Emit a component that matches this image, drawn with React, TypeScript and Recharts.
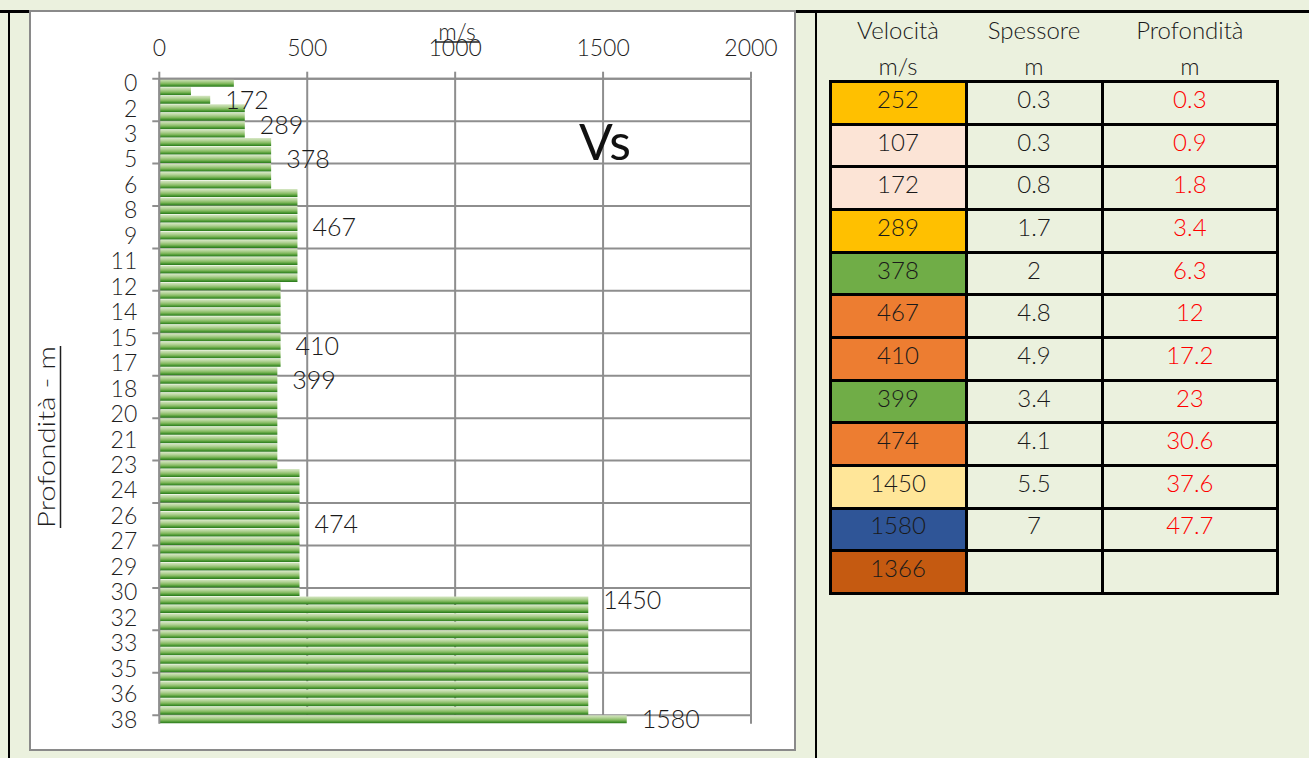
import React from 'react';
import { BarChart, Bar, XAxis, YAxis, CartesianGrid, LabelList } from 'recharts';

// ---- chart data ----
const depthCategories = [
  0, 0.5, 1, 1.5, 2, 2.5, 3, 3.5, 4, 4.5, 5, 5.5, 6, 6.5, 7, 7.5, 8, 8.5, 9, 9.5,
  10, 10.5, 11, 11.5, 12, 12.5, 13, 13.5, 14, 14.5, 15, 15.5, 16, 16.5, 17, 17.5,
  18, 18.5, 19, 19.5, 20, 20.5, 21, 21.5, 22, 22.5, 23, 23.5, 24, 24.5, 25, 25.5,
  26, 26.5, 27, 27.5, 28, 28.5, 29, 29.5, 30, 30.5, 31, 31.5, 32, 32.5, 33, 33.5,
  34, 34.5, 35, 35.5, 36, 36.5, 37, 37.5,
];
const layerVelocities = [252, 107, 172, 289, 378, 467, 410, 399, 474, 1450, 1580];
const layerRowCounts = [1, 1, 1, 4, 6, 11, 10, 12, 15, 14, 1];
const labelledRows = [2, 5, 9, 17, 31, 35, 52, 61, 75];
const xTicks = [0, 500, 1000, 1500, 2000];

// ---- table data ----
const headerTop = ['Velocità', 'Spessore', 'Profondità'];
const headerUnits = ['m/s', 'm', 'm'];
const tableVelocity = ['252', '107', '172', '289', '378', '467', '410', '399', '474', '1450', '1580', '1366'];
const tableThickness = ['0.3', '0.3', '0.8', '1.7', '2', '4.8', '4.9', '3.4', '4.1', '5.5', '7', ''];
const tableDepth = ['0.3', '0.9', '1.8', '3.4', '6.3', '12', '17.2', '23', '30.6', '37.6', '47.7', ''];
const velocityColors = [
  '#FFC000', '#FCE4D6', '#FCE4D6', '#FFC000', '#70AD47', '#ED7D31',
  '#ED7D31', '#70AD47', '#ED7D31', '#FFE699', '#2F5597', '#C55A11',
];

const rows: { depth: number; v: number; lbl: number | null }[] = [];
{
  let idx = 0;
  layerVelocities.forEach((v, li) => {
    for (let c = 0; c < layerRowCounts[li]; c++) {
      rows.push({ depth: depthCategories[idx], v, lbl: labelledRows.includes(idx) ? v : null });
      idx++;
    }
  });
}

const FONT = "Lato, 'Liberation Sans', sans-serif";
const FW = 300;
const GRID = '#8e8e8e';
const BG = '#EBF1DE';

const renderLabel = (p: any) => {
  const { x, y, width, height, value } = p;
  if (value === null || value === undefined || value === '') return null;
  return (
    <text
      x={Number(x) + Number(width) + 15}
      y={Number(y) + Number(height) / 2}
      dy="0.36em"
      fontSize={25}
      fontFamily={FONT}
      fontWeight={FW}
      fill="#1a1a1a"
    >
      {value}
    </text>
  );
};

export default function App() {
  const bandsPerGrid = 5;
  const hGen = ({ offset }: any) => {
    const out: number[] = [];
    const step = offset.height / rows.length;
    for (let k = 0; k * bandsPerGrid < rows.length; k++) out.push(offset.top + k * bandsPerGrid * step);
    return out;
  };
  const horizontalLine = (p: any) => (
    <line key={`h-${p.index}-${p.y1}`} x1={p.x1 - 7} y1={p.y1} x2={p.x2} y2={p.y2} stroke={GRID} strokeWidth={2} />
  );
  const verticalLine = (p: any) => {
    const isLast = p.index === xTicks.length - 1;
    const band = (p.y2 - p.y1) / rows.length;
    const yEnd = isLast ? p.y2 : p.y2 - band;
    return (
      <line key={`v-${p.index}-${p.x1}`} x1={p.x1} y1={p.y1} x2={p.x2} y2={yEnd} stroke={GRID} strokeWidth={2} />
    );
  };

  return (
    <div style={{ position: 'absolute', left: 0, top: 0, width: 1309, height: 758, background: BG, overflow: 'hidden', fontFamily: FONT, fontWeight: FW }}>
      {/* frame lines */}
      <div style={{ position: 'absolute', left: 0, top: 10, width: 1309, height: 2.5, background: '#000' }} />
      <div style={{ position: 'absolute', left: 7.5, top: 10, width: 2, height: 748, background: '#000' }} />
      <div style={{ position: 'absolute', left: 814.5, top: 10, width: 2.5, height: 748, background: '#000' }} />
      {/* chart panel */}
      <div style={{ position: 'absolute', left: 29, top: 10, width: 767, height: 741, background: '#fff', border: '2px solid #8a8a8a', boxSizing: 'border-box' }} />
      <div style={{ position: 'absolute', left: 0, top: 0 }}>
        <BarChart
          width={800}
          height={758}
          data={rows}
          layout="vertical"
          margin={{ top: 0, right: 49, bottom: 34.3, left: 0 }}
          barCategoryGap={0}
        >
          <defs>
            <linearGradient id="greenBar" x1="0" y1="0" x2="0" y2="1">
              <stop offset="0%" stopColor="#d6e7c4" />
              <stop offset="30%" stopColor="#b4d398" />
              <stop offset="60%" stopColor="#84ba60" />
              <stop offset="82%" stopColor="#4c9833" />
              <stop offset="100%" stopColor="#27771a" />
            </linearGradient>
          </defs>
          <CartesianGrid
            horizontalCoordinatesGenerator={hGen}
            horizontal={horizontalLine}
            vertical={verticalLine}
            stroke={GRID}
          />
          <XAxis
            type="number"
            orientation="top"
            domain={[0, 2000]}
            ticks={xTicks}
            height={78.7}
            tickSize={7}
            tickMargin={16}
            axisLine={{ stroke: GRID, strokeWidth: 2 }}
            tickLine={{ stroke: GRID, strokeWidth: 2 }}
            tick={{ fontSize: 23, fill: '#1f1f1f', fontFamily: FONT, fontWeight: FW }}
            interval={0}
          />
          <YAxis
            type="category"
            dataKey="depth"
            width={159.3}
            interval={2}
            tickSize={0}
            tickMargin={22}
            tickLine={false}
            axisLine={{ stroke: GRID, strokeWidth: 2 }}
            tick={{ fontSize: 23, fill: '#1f1f1f', fontFamily: FONT, fontWeight: FW }}
            tickFormatter={(v: number) => String(Math.round(v))}
          />
          <Bar dataKey="v" fill="url(#greenBar)" isAnimationActive={false}>
            <LabelList dataKey="lbl" content={renderLabel} />
          </Bar>
        </BarChart>
      </div>
      {/* chart titles */}
      <svg style={{ position: 'absolute', left: 0, top: 0, pointerEvents: 'none' }} width={800} height={758}>
        <text x={605} y={160} textAnchor="middle" fontSize={50} fontFamily={FONT} fontWeight={400} fill="#111">Vs</text>
        <text x={457} y={40} textAnchor="middle" fontSize={23} fontFamily={FONT} fontWeight={FW} fill="#1f1f1f">m/s</text>
        <line x1={435} y1={42} x2={479} y2={42} stroke="#1f1f1f" strokeWidth={1.5} />
        <text
          x={55}
          y={437}
          transform="rotate(-90, 55, 437)"
          textAnchor="middle"
          fontSize={24}
          fontFamily={FONT}
          fontWeight={FW}
          fill="#1f1f1f"
          textLength={182}
          lengthAdjust="spacingAndGlyphs"
        >
          Profondità - m
        </text>
        <line x1={60.5} y1={346} x2={60.5} y2={528} stroke="#1f1f1f" strokeWidth={1.5} />
      </svg>
      {/* table header */}
      {headerTop.map((h, i) => {
        const lefts = [831.5, 967.5, 1103.5];
        const widths = [133, 133, 172.7];
        return (
          <React.Fragment key={h}>
            <div style={{ position: 'absolute', left: lefts[i], top: 16.3, width: widths[i], textAlign: 'center', fontSize: 24, lineHeight: 1.2, color: '#1a1a1a' }}>{h}</div>
            <div style={{ position: 'absolute', left: lefts[i], top: 52.3, width: widths[i], textAlign: 'center', fontSize: 24, lineHeight: 1.2, color: '#1a1a1a' }}>{headerUnits[i]}</div>
          </React.Fragment>
        );
      })}
      {/* table body */}
      <div
        style={{
          position: 'absolute', left: 828.5, top: 80.2, width: 450.7, height: 514.6,
          background: '#000', display: 'grid', gridTemplateColumns: '133px 133px 1fr',
          gridTemplateRows: 'repeat(12, 1fr)', gap: 3, padding: 3, boxSizing: 'border-box',
        }}
      >
        {tableVelocity.map((v, r) => {
          const cell = (content: string, bg: string, color: string, key: string) => (
            <div key={key} style={{ background: bg, color, fontSize: 24, display: 'flex', alignItems: 'center', justifyContent: 'center', paddingBottom: 7, boxSizing: 'border-box', lineHeight: 1.2 }}>{content}</div>
          );
          return (
            <React.Fragment key={r}>
              {cell(v, velocityColors[r], '#1a1a1a', `a${r}`)}
              {cell(tableThickness[r], BG, '#1a1a1a', `b${r}`)}
              {cell(tableDepth[r], BG, '#FF0000', `c${r}`)}
            </React.Fragment>
          );
        })}
      </div>
    </div>
  );
}
